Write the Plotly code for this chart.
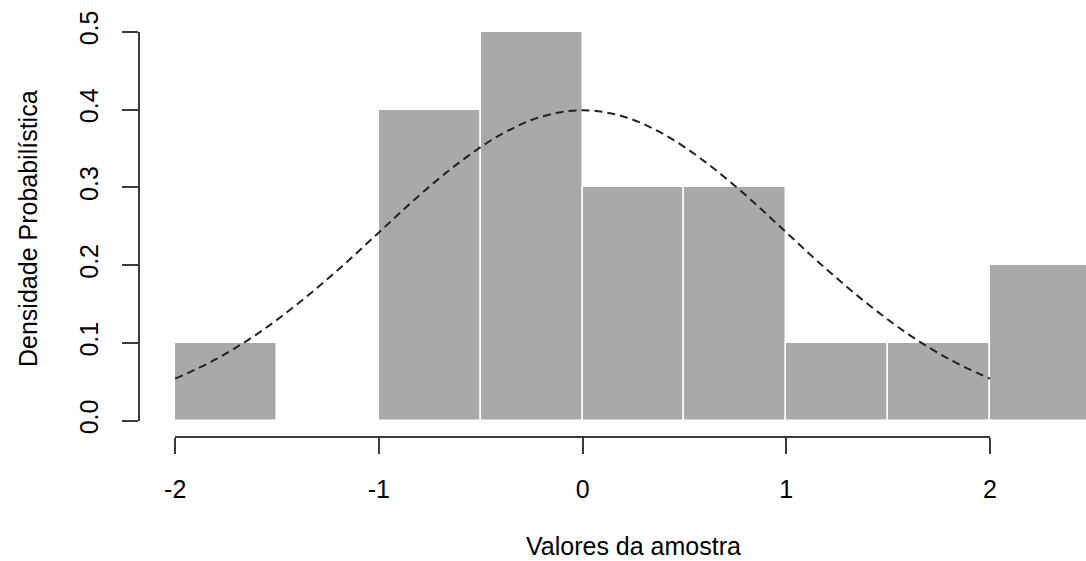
import plotly.graph_objects as go

# Histogram data (density per bin)
bin_left = [-2.0, -1.5, -1.0, -0.5, 0.0, 0.5, 1.0, 1.5, 2.0]
bin_width = 0.5
density = [0.1, 0.0, 0.4, 0.5, 0.3, 0.3, 0.1, 0.1, 0.2]

# Dashed reference curve
curve_x = [-2.0, -1.8, -1.6, -1.4, -1.2, -1.0, -0.8, -0.6, -0.4, -0.2, 0.0,
           0.2, 0.4, 0.6, 0.8, 1.0, 1.2, 1.4, 1.6, 1.8, 2.0]
curve_y = [0.054, 0.079, 0.111, 0.150, 0.194, 0.242, 0.290, 0.333, 0.368, 0.391, 0.399,
           0.391, 0.368, 0.333, 0.290, 0.242, 0.194, 0.150, 0.111, 0.079, 0.054]

x_ticks = [-2, -1, 0, 1, 2]
y_ticks = [0.0, 0.1, 0.2, 0.3, 0.4, 0.5]
y_tick_text = ["0.0", "0.1", "0.2", "0.3", "0.4", "0.5"]

x_title = "Valores da amostra"
y_title = "Densidade Probabilística"

W, H = 1086, 561
FONT = "Liberation Sans, Arial, sans-serif"
FS = 25
AXC = "#3a3a3a"

# pixel mapping
px_x0 = 582.6      # pixel of x=0
px_per_x = 203.7
px_y0 = 420.7      # pixel of y=0
px_per_y = 778.0

xr = [(0 - px_x0) / px_per_x, (W - px_x0) / px_per_x]
yr = [(px_y0 - H) / px_per_y, px_y0 / px_per_y]

centers = [b + bin_width / 2 for b in bin_left]

fig = go.Figure()
fig.add_trace(go.Bar(
    x=centers, y=density, width=[bin_width] * len(centers),
    marker=dict(color="#a9a9a9", line=dict(color="white", width=1.5)),
    hoverinfo="skip", showlegend=False,
))
fig.add_trace(go.Scatter(
    x=curve_x, y=curve_y, mode="lines", line_shape="spline",
    line=dict(color="#222222", width=2, dash="8px,5px"),
    hoverinfo="skip", showlegend=False,
))
# helper trace for the R-style offset axes
fig.add_trace(go.Scatter(
    x=[x_ticks[0], x_ticks[-1]], y=[y_ticks[0], y_ticks[-1]], mode="none",
    xaxis="x2", yaxis="y2", hoverinfo="skip", showlegend=False,
))

def px2paper_x(p):
    return p / W

def px2paper_y(p):
    return (H - p) / H

x2_dom = [px2paper_x(px_x0 + x_ticks[0] * px_per_x), px2paper_x(px_x0 + x_ticks[-1] * px_per_x)]
y2_dom = [px2paper_y(px_y0 - y_ticks[0] * px_per_y), px2paper_y(px_y0 - y_ticks[-1] * px_per_y)]

fig.update_layout(
    width=W, height=H,
    margin=dict(l=0, r=0, t=0, b=0, pad=0, autoexpand=False),
    paper_bgcolor="white", plot_bgcolor="rgba(0,0,0,0)",
    bargap=0,
    font=dict(family=FONT, size=FS, color="black"),
    xaxis=dict(domain=[0, 1], range=xr, visible=False, fixedrange=True, automargin=False),
    yaxis=dict(domain=[0, 1], range=yr, visible=False, fixedrange=True, automargin=False),
    xaxis2=dict(
        domain=x2_dom, range=[x_ticks[0], x_ticks[-1]], anchor="free",
        position=px2paper_y(437), showgrid=False, zeroline=False, automargin=False,
        showline=True, linecolor=AXC, linewidth=2,
        ticks="outside", ticklen=16, tickwidth=2, tickcolor=AXC,
        tickvals=x_ticks, ticktext=[str(v) for v in x_ticks],
        ticklabelstandoff=14,
        tickfont=dict(family=FONT, size=FS, color="black"),
    ),
    yaxis2=dict(
        domain=y2_dom, range=[y_ticks[0], y_ticks[-1]], anchor="free",
        position=px2paper_x(138.5), side="left", showgrid=False, zeroline=False,
        automargin=False,
        showline=True, linecolor=AXC, linewidth=2,
        ticks="outside", ticklen=16, tickwidth=2, tickcolor=AXC,
        tickvals=y_ticks, ticktext=y_tick_text, tickangle=-90,
        ticklabelstandoff=14,
        tickfont=dict(family=FONT, size=FS, color="black"),
    ),
    annotations=[
        dict(text=x_title, xref="paper", yref="paper",
             x=px2paper_x(633), y=px2paper_y(546), xanchor="center", yanchor="middle",
             showarrow=False, font=dict(family=FONT, size=FS, color="black")),
        dict(text=y_title, xref="paper", yref="paper", textangle=-90,
             x=px2paper_x(28), y=px2paper_y(229), xanchor="center", yanchor="middle",
             showarrow=False, font=dict(family=FONT, size=FS, color="black")),
    ],
)

fig.write_html("out.html")
